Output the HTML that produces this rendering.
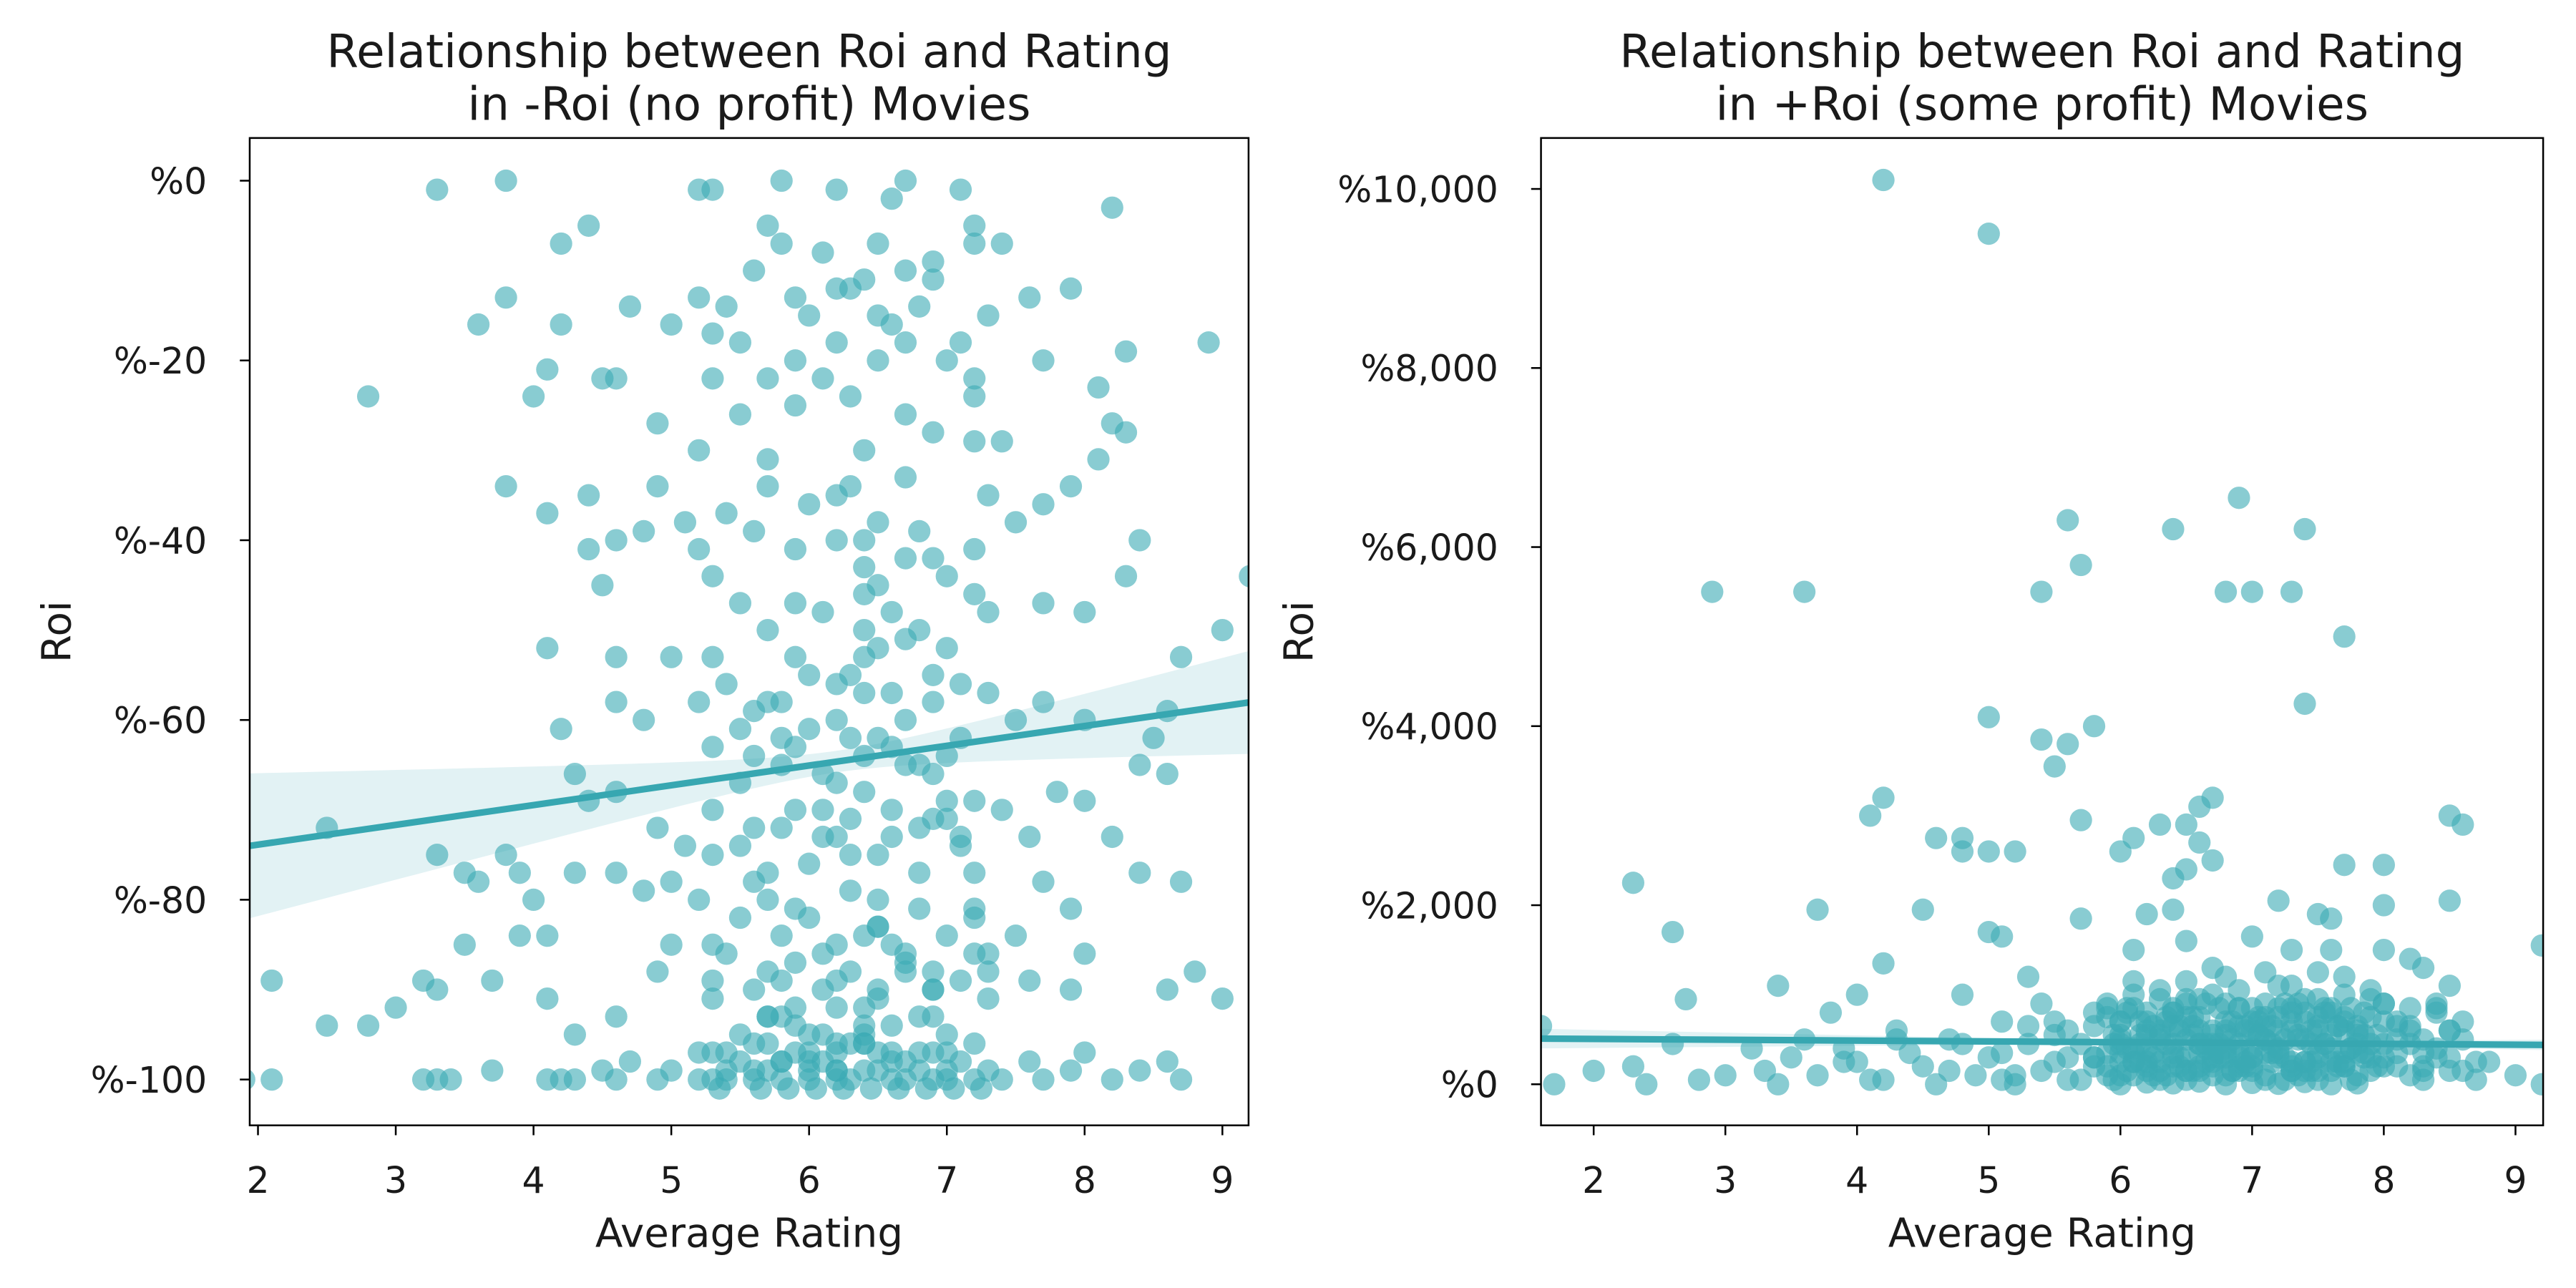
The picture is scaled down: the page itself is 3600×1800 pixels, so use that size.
<!DOCTYPE html>
<html><head><meta charset="utf-8">
<style>
html,body{margin:0;padding:0;background:#fff;}
svg{display:block;}
text{font-family:"DejaVu Sans","Liberation Sans",sans-serif;fill:#1a1a1a;}
</style></head>
<body>
<svg id="chart" width="3600" height="1800" viewBox="0 0 1568 784" xmlns="http://www.w3.org/2000/svg">
<rect width="1568" height="784" fill="#fff"/>
<g id="left"></g>
<g id="right"></g>
</svg>
<script>
const xTicks = [2,3,4,5,6,7,8,9];
const leftYTicks = [0,-20,-40,-60,-80,-100];
const leftYLabels = ["%0","%-20","%-40","%-60","%-80","%-100"];
const rightYTicks = [0,2000,4000,6000,8000,10000];
const rightYLabels = ["%0","%2,000","%4,000","%6,000","%8,000","%10,000"];

const leftX = [
3.3,3.8,5.2,5.8,6.7,8.2,6.2,5.3,6.6,7.1,
7.2,4.4,4.2,3.8,3.6,4.2,2.8,4.0,4.1,4.5,
4.6,4.7,5.0,5.2,5.4,5.5,5.6,5.8,5.9,6.0,
6.1,6.2,6.3,6.4,6.5,6.6,6.7,6.8,6.9,7.0,
7.1,7.2,7.3,7.4,7.6,7.7,7.9,8.1,8.3,8.9,
8.2,8.3,5.3,5.5,5.7,5.9,6.1,6.3,6.5,6.7,
6.9,7.2,7.4,4.9,5.2,
3.8,4.1,4.4,4.4,4.5,4.6,4.8,4.9,5.1,5.2,
5.4,5.6,5.7,5.9,6.0,6.2,6.3,6.4,6.4,6.4,
6.5,6.6,6.7,6.8,7.0,7.2,7.3,7.5,7.7,7.9,
8.1,8.4,8.3,9.2,9.0,8.7,8.0,7.7,7.3,7.0,
6.8,6.5,6.3,6.1,5.9,5.7,5.5,5.3,5.0,4.6,
4.6,4.2,4.1,4.8,5.2,5.4,5.6,5.8,6.0,6.2,
6.4,6.6,6.7,6.9,7.1,7.3,7.5,7.7,8.0,8.6,
8.5,
4.3,4.4,4.6,4.9,5.1,5.3,5.5,5.6,5.8,5.9,
6.1,6.2,6.3,6.4,6.5,6.6,6.8,6.9,7.0,7.1,
7.2,7.4,7.6,7.8,8.0,8.2,8.4,8.4,8.6,8.7,
2.5,3.3,3.5,3.6,3.8,3.9,4.0,4.1,3.9,4.3,
4.6,4.8,5.0,5.2,5.3,5.5,5.7,5.8,6.0,6.1,
6.3,6.5,6.6,6.8,6.9,7.0,7.2,7.3,7.5,7.7,
7.9,8.0,3.5,3.7,2.1,2.5,2.8,3.0,3.2,3.3,
4.1,4.3,4.6,4.9,5.0,5.3,5.6,5.8,6.1,6.3,
6.5,6.7,6.9,7.1,7.3,7.6,7.9,8.6,8.8,9.0,
1.9,2.1,3.2,3.3,3.4,3.7,4.1,4.2,4.3,4.5,
4.6,4.7,4.9,5.0,5.2,5.3,5.4,5.5,5.6,5.7,
5.8,5.9,6.0,6.1,6.2,6.3,6.4,6.5,6.6,6.7,
6.8,6.9,7.0,7.1,7.2,7.3,7.4,7.6,7.7,7.9,
8.0,8.2,8.4,8.7,8.6,5.7,5.9,6.2,6.4,6.6,
6.8,5.5,7.0,5.8,6.0,6.3,6.5,6.2,5.6,6.9,
7.2,6.1,5.4,5.7,6.0,6.4,6.7,7.0,5.3,6.2,
5.3,5.3,5.3,5.3,5.3,5.7,5.7,5.7,5.7,5.7,
5.9,5.9,5.9,5.9,5.9,6.2,6.2,6.2,6.2,6.2,
6.4,6.4,6.4,6.4,6.4,6.5,6.5,6.5,6.5,6.5,
6.7,6.7,6.7,6.7,6.7,6.9,6.9,6.9,6.9,6.9,
7.2,7.2,7.2,7.2,7.2,5.5,5.6,5.8,6.0,6.1,
6.3,6.6,6.8,7.0,7.1,5.5,5.6,5.8,6.0,6.1,
6.3,6.6,6.8,7.0,7.1,5.4,5.7,5.9,6.2,6.4,
6.5,6.7,6.9,7.2,7.3,5.2,5.4,5.6,5.8,6.0,
6.2,6.4,6.6,6.8,7.0,5.8,6.0,6.2,6.4,6.6,
5.35,5.65,5.85,6.05,6.25,6.45,6.65,6.85,7.05,7.25
];
const leftY = [
-1,0,-1,0,0,-3,-1,-1,-2,-1,
-5,-5,-7,-13,-16,-16,-24,-24,-21,-22,
-22,-14,-16,-13,-14,-18,-10,-7,-13,-15,
-8,-18,-12,-11,-7,-16,-10,-14,-9,-20,
-18,-24,-15,-7,-13,-20,-12,-23,-19,-18,
-27,-28,-22,-26,-22,-20,-22,-24,-20,-26,
-28,-22,-29,-27,-30,
-34,-37,-35,-41,-45,-40,-39,-34,-38,-41,
-37,-39,-34,-41,-36,-40,-34,-43,-46,-50,
-45,-48,-42,-39,-44,-41,-35,-38,-36,-34,
-31,-40,-44,-44,-50,-53,-48,-47,-48,-52,
-50,-52,-55,-48,-53,-50,-47,-53,-53,-53,
-58,-61,-52,-60,-58,-56,-59,-58,-55,-60,
-57,-57,-60,-58,-56,-57,-60,-58,-60,-59,
-62,
-66,-69,-68,-72,-74,-70,-67,-72,-65,-70,
-73,-67,-71,-64,-75,-70,-72,-66,-69,-74,
-77,-70,-73,-68,-69,-73,-65,-77,-66,-78,
-72,-75,-77,-78,-75,-77,-80,-84,-84,-77,
-77,-79,-78,-80,-85,-82,-80,-84,-82,-86,
-79,-83,-85,-81,-88,-84,-82,-86,-84,-78,
-81,-86,-85,-89,-89,-94,-94,-92,-89,-90,
-91,-95,-93,-88,-85,-89,-90,-89,-90,-88,
-91,-88,-90,-89,-88,-89,-90,-90,-88,-91,
-100,-100,-100,-100,-100,-99,-100,-100,-100,-99,
-100,-98,-100,-99,-100,-97,-100,-98,-99,-96,
-100,-97,-99,-98,-100,-96,-99,-97,-100,-98,
-99,-97,-100,-98,-96,-99,-100,-98,-100,-99,
-97,-100,-99,-100,-98,-93,-94,-92,-95,-94,
-93,-95,-95,-98,-100,-100,-99,-97,-100,-100,
-100,-95,-97,-99,-98,-96,-100,-97,-100,-99,
-17,-44,-63,-75,-91,-5,-31,-58,-77,-93,
-25,-47,-63,-81,-92,-12,-35,-56,-73,-89,
-30,-40,-53,-68,-84,-15,-38,-62,-80,-90,
-18,-33,-51,-65,-86,-11,-42,-55,-71,-93,
-7,-29,-46,-69,-81,-61,-64,-62,-61,-66,
-62,-63,-65,-64,-62,-74,-78,-72,-76,-70,
-75,-73,-77,-71,-73,-86,-88,-87,-85,-92,
-83,-87,-90,-86,-91,-97,-99,-96,-98,-97,
-99,-96,-98,-97,-99,-93,-95,-96,-94,-97,
-101,-101,-101,-101,-101,-101,-101,-101,-101,-101
];

const rightX = [
4.2,5.0,5.6,6.9,6.4,7.4,2.9,3.6,5.4,5.7,
6.8,7.0,7.3,7.7,5.0,5.8,7.4,5.4,5.6,5.5,
4.1,4.2,5.7,6.6,6.7,8.5,8.6,4.6,4.8,4.8,
5.0,5.2,6.0,6.1,6.3,6.5,6.6,6.7,6.5,6.4,
2.3,4.5,3.7,2.6,5.7,6.4,7.2,7.5,7.6,8.0,
8.0,7.7,8.5,9.2,4.2,4.0,3.8,3.4,2.7,4.8,
5.0,5.3,5.1,6.1,6.5,7.3,7.6,8.0,8.3,8.5,
8.2,7.0,6.8,6.2,1.6,2.6,2.3,3.2,3.6,
3.3,3.5,3.7,3.9,4.0,4.2,4.4,4.5,4.7,4.9,
5.0,5.1,5.2,5.3,5.4,5.5,5.6,5.7,5.8,5.9,
6.0,6.0,6.1,6.1,6.2,6.2,6.3,6.3,6.4,6.4,
6.5,6.5,6.6,6.6,6.7,6.7,6.8,6.8,6.9,6.9,
7.0,7.0,7.1,7.1,7.2,7.2,7.3,7.3,7.4,7.4,
7.5,7.5,7.6,7.6,7.7,7.7,7.8,7.8,7.9,7.9,
8.0,8.0,8.1,8.2,8.3,8.4,8.5,8.6,8.8,9.0,
6.0,6.2,6.4,6.6,6.8,7.0,7.2,7.4,7.6,7.8,
6.1,6.3,6.5,6.7,6.9,7.1,7.3,7.5,7.7,7.9,
5.2,5.4,5.6,5.8,6.0,6.2,6.4,6.6,6.8,7.0,
1.7,2.0,2.4,2.8,3.0,3.4,4.1,4.6,5.1,8.7,
7.1,7.3,7.5,7.7,7.9,8.1,8.3,6.5,6.7,6.9,
5.9,6.1,6.3,6.5,6.7,6.9,7.1,7.3,7.5,7.7,
6.0,6.2,6.4,6.6,6.8,7.0,7.2,7.4,7.6,7.8,
4.3,4.8,5.3,5.5,5.7,8.0,8.2,8.4,8.6,9.2,
6.1,6.3,6.5,6.7,6.9,7.1,7.3,7.5,7.7,7.9,
6.0,6.2,6.4,6.6,6.8,7.0,7.2,7.4,7.6,7.8,
6.05,6.25,6.45,6.65,6.85,7.05,7.25,7.45,7.65,7.85,
6.05,6.25,6.45,6.65,6.85,7.05,7.25,7.45,7.65,7.85,
6.15,6.35,6.55,6.75,6.95,7.15,7.35,7.55,7.75,7.95,
6.15,6.35,6.55,6.75,6.95,7.15,7.35,7.55,7.75,7.95,
5.6,5.8,6.0,6.2,6.4,6.6,6.8,7.0,7.2,7.4,
3.9,4.3,4.7,5.1,5.5,5.9,8.1,8.3,8.5,8.7,
6.9,7.1,6.5,6.7,7.3,7.5,6.3,7.7,6.1,7.9,
5.9,6.0,6.1,6.2,6.3,6.4,6.5,6.6,6.7,6.8,
6.9,7.0,7.1,7.2,7.3,7.4,7.5,7.6,7.7,7.8,
5.9,6.0,6.1,6.2,6.3,6.4,6.5,6.6,6.7,6.8,
6.9,7.0,7.1,7.2,7.3,7.4,7.5,7.6,7.7,7.8,
5.95,6.05,6.15,6.25,6.35,6.45,6.55,6.65,6.75,6.85,
6.95,7.05,7.15,7.25,7.35,7.45,7.55,7.65,7.75,7.85,
5.95,6.05,6.15,6.25,6.35,6.45,6.55,6.65,6.75,6.85,
6.95,7.05,7.15,7.25,7.35,7.45,7.55,7.65,7.75,7.85,
8.0,8.1,8.2,8.3,8.4,8.0,8.1,8.2,8.3,8.4,
5.8,5.8,5.9,8.5,8.5,8.6,8.0,8.2,5.95,8.4
];
const rightY = [
10100,9500,6300,6550,6200,6200,5500,5500,5500,5800,
5500,5500,5500,5000,4100,4000,4250,3850,3800,3550,
3000,3200,2950,3100,3200,3000,2900,2750,2750,2600,
2600,2600,2600,2750,2900,2900,2700,2500,2400,2300,
2250,1950,1950,1700,1850,1950,2050,1900,1850,2000,
2450,2450,2050,1550,1350,1000,800,1100,950,1000,
1700,1200,1650,1500,1600,1500,1500,1500,1300,1100,
1400,1650,1200,1900,650,450,200,400,500,
150,300,100,400,250,50,350,200,500,100,
300,700,100,450,900,250,600,50,800,350,
100,700,400,1000,200,800,500,50,650,300,
900,150,450,750,250,1000,550,100,850,350,
600,200,900,50,400,1100,700,250,500,950,
150,650,400,850,200,1000,550,100,750,300,
450,900,200,600,350,800,150,500,250,100,
0,20,10,30,0,15,5,25,0,10,
350,550,150,600,300,750,150,350,600,450,
0,150,300,200,450,600,850,350,700,850,
0,150,0,50,100,0,50,0,50,50,
500,850,750,350,950,650,50,500,450,650,
900,250,950,750,100,200,350,600,950,750,
250,400,450,950,400,400,750,800,550,450,
600,450,650,550,450,200,850,400,700,0,
100,250,50,300,150,100,200,50,250,150,
700,550,200,150,600,300,350,150,250,650,
150,350,600,250,500,750,300,600,200,550,
800,650,300,450,150,550,900,250,650,300,
450,100,750,300,650,350,500,800,400,200,
250,700,550,850,200,650,100,450,850,550,
50,300,500,250,800,450,350,700,600,250,
250,500,150,350,700,100,350,200,600,250,
1050,1250,1150,1300,1100,1250,1050,1200,1150,1050,
200,550,250,700,150,800,300,600,200,900,
450,150,650,300,800,250,600,150,700,350,
750,350,850,150,600,350,950,200,550,300,
850,300,500,850,150,700,300,800,200,600,
450,850,550,300,750,200,650,400,350,700,
600,550,250,500,900,450,850,250,400,800,
50,400,700,100,450,650,150,900,450,150,
250,700,450,50,550,150,450,650,50,350,
300,700,100,500,850,900,500,650,150,300,
300,650,850,300,600,150,700,450,550,900
];

const NS = "http://www.w3.org/2000/svg";
function mk(parent, tag, attrs){ const e=document.createElementNS(NS,tag); for(const k in attrs) e.setAttribute(k,attrs[k]); parent.appendChild(e); return e; }

function drawPanel(g, cfg){
  const {x0,x1,y0,y1,xmin,xmax,ymin,ymax} = cfg;
  const sx = v => x0 + (v - xmin)/(xmax - xmin)*(x1 - x0);
  const sy = v => y1 - (v - ymin)/(ymax - ymin)*(y1 - y0);
  const clipId = cfg.id + "-clip";
  const defs = mk(g,"defs",{});
  const cp = mk(defs,"clipPath",{id:clipId});
  mk(cp,"rect",{x:x0,y:y0,width:x1-x0,height:y1-y0});
  const plot = mk(g,"g",{"clip-path":"url(#"+clipId+")"});
  for(let i=0;i<cfg.xs.length;i++){
    const c = mk(plot,"circle",{cx:sx(cfg.xs[i]),cy:sy(cfg.ys[i]),r:6.8,fill:"#3aaab4","fill-opacity":0.6});
    
    
  }
  let up=[],lo=[];
  for(let k=0;k<=60;k++){
    const xv = xmin + (xmax-xmin)*k/60;
    const yc = cfg.a + cfg.b*(xv - xmin);
    const w = Math.sqrt(cfg.w0*cfg.w0 + cfg.k*(xv-cfg.xm)*(xv-cfg.xm));
    up.push(sx(xv)+","+sy(yc+w)); lo.unshift(sx(xv)+","+sy(yc-w));
  }
  const band = mk(plot,"polygon",{points:up.concat(lo).join(" "),fill:"#3aaab4","fill-opacity":0.15});
  
  
  const ln = mk(plot,"line",{x1:sx(xmin),y1:sy(cfg.a),x2:sx(xmax),y2:sy(cfg.a+cfg.b*(xmax-xmin)),stroke:"#37a7b1","stroke-width":4});
  
  
  const fr = mk(g,"rect",{x:x0,y:y0,width:x1-x0,height:y1-y0,fill:"none",stroke:"#000","stroke-width":1.1});
  
  
  xTicks.forEach(t=>{
    const px=sx(t);
    mk(g,"line",{x1:px,y1:y1,x2:px,y2:y1+6,stroke:"#000","stroke-width":1.1});
    const tx = mk(g,"text",{x:px,y:y1+41,"text-anchor":"middle","font-size":22});
    tx.textContent = t;
    
    
  });
  cfg.yt.forEach((t,i)=>{
    const py=sy(t);
    mk(g,"line",{x1:x0-6,y1:py,x2:x0,y2:py,stroke:"#000","stroke-width":1.1});
    const tx = mk(g,"text",{x:x0-26,y:py+8,"text-anchor":"end","font-size":22});
    tx.textContent = cfg.yl[i];
    
    
  });
  const xl = mk(g,"text",{x:(x0+x1)/2,y:759,"text-anchor":"middle","font-size":24.5});
  xl.textContent = "Average Rating";
  
  
  const yl = mk(g,"text",{x:0,y:0,"text-anchor":"middle","font-size":24.5,transform:"translate("+cfg.ylx+","+((y0+y1)/2)+") rotate(-90)"});
  yl.textContent = "Roi";
  
  
  cfg.title.forEach((s,i)=>{
    const tt = mk(g,"text",{x:(x0+x1)/2,y:41+i*32,"text-anchor":"middle","font-size":28});
    tt.textContent = s;
    
    
  });
}

drawPanel(document.getElementById('left'),{id:"l",x0:152,x1:760,y0:84,y1:685,xmin:1.94,xmax:9.19,ymin:-105.1,ymax:4.75,
  xs:leftX,ys:leftY,yt:leftYTicks,yl:leftYLabels,a:-74,b:2.2,w0:1.2,k:3.5,xm:6.2,ylx:43,
  title:["Relationship between Roi and Rating","in -Roi (no profit) Movies"]});
drawPanel(document.getElementById('right'),{id:"r",x0:938,x1:1548,y0:84,y1:685,xmin:1.6,xmax:9.21,ymin:-459,ymax:10569,
  xs:rightX,ys:rightY,yt:rightYTicks,yl:rightYLabels,a:510,b:-9.2,w0:15,k:470,xm:6.6,ylx:799,
  title:["Relationship between Roi and Rating","in +Roi (some profit) Movies"]});
</script>
</body></html>
